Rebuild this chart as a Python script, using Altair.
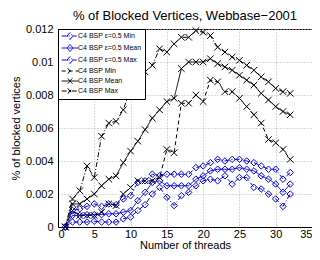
import altair as alt
import pandas as pd

threads = list(range(1, 33))

blue_min = [0, 0.0003, 0.0003, 0.0003, 0.00035, 0.0003, 0.0003, 0.0003, 0.0005, 0.0006,
            0.0010, 0.00135, 0.0020, 0.0024, 0.0018, 0.0013, 0.0019, 0.0021, 0.0025, 0.0028,
            0.0029, 0.0028, 0.0031, 0.0026, 0.0030, 0.0030, 0.0024, 0.0023, 0.0020, 0.0017,
            0.00125, 0.0020]
blue_mean = [0, 0.0007, 0.0007, 0.00075, 0.00075, 0.00075, 0.0008, 0.0008, 0.0009, 0.0010,
             0.0016, 0.0021, 0.0027, 0.0028, 0.0025, 0.0025, 0.0025, 0.0025, 0.0029, 0.0031,
             0.0034, 0.0035, 0.0035, 0.0035, 0.0036, 0.0035, 0.0034, 0.0031, 0.0029, 0.0026,
             0.0021, 0.0026]
blue_max = [0, 0.0010, 0.0011, 0.00125, 0.0014, 0.00125, 0.0014, 0.00135, 0.0017, 0.0019,
            0.0027, 0.0028, 0.0032, 0.0031, 0.0032, 0.0032, 0.0032, 0.0032, 0.0036, 0.0037,
            0.0039, 0.0041, 0.0040, 0.0041, 0.0041, 0.0040, 0.0039, 0.0037, 0.0035, 0.0035,
            0.0029, 0.0033]
black_min = [0, 0.0010, 0.0007, 0.0007, 0.0007, 0.0009, 0.0014, 0.0013, 0.0020, 0.0024,
             0.0028, 0.0028, 0.0028, 0.0030, 0.0047, 0.0045, 0.0075, 0.0075, 0.0080, 0.0076,
             0.0089, 0.0088, 0.0082, 0.0082, 0.0078, 0.0073, 0.0068, 0.0063, 0.0053, 0.0051,
             0.0047, 0.0041]
black_mean = [0, 0.0014, 0.0014, 0.0017, 0.0020, 0.0025, 0.0029, 0.0031, 0.0039, 0.0046,
              0.0052, 0.0059, 0.0066, 0.0071, 0.0076, 0.0078, 0.0096, 0.0100, 0.0100, 0.0100,
              0.0102, 0.0099, 0.0097, 0.0095, 0.0092, 0.0089, 0.0086, 0.0081, 0.0077, 0.0073,
              0.0070, 0.0068]
black_max = [0, 0.0017, 0.0022, 0.0037, 0.0030, 0.0055, 0.0063, 0.0064, 0.0071, 0.0084,
             0.0090, 0.0094, 0.0098, 0.0108, 0.0106, 0.0111, 0.0115, 0.0115, 0.0119, 0.0118,
             0.0116, 0.0109, 0.0106, 0.0103, 0.0101, 0.0098, 0.0095, 0.0091, 0.0088, 0.0084,
             0.0082, 0.0081]

series_names = ["C4 BSP ε=0.5 Min", "C4 BSP ε=0.5 Mean", "C4 BSP ε=0.5 Max",
                "C4 BSP Min", "C4 BSP Mean", "C4 BSP Max"]
series_values = [blue_min, blue_mean, blue_max, black_min, black_mean, black_max]

x_ticks = [0, 5, 10, 15, 20, 25, 30, 35]
y_ticks = [0, 0.002, 0.004, 0.006, 0.008, 0.01, 0.012]

rows = []
for name, vals in zip(series_names, series_values):
    for t, v in zip(threads, vals):
        rows.append({"threads": t, "value": v, "series": name})
df = pd.DataFrame(rows)

BLUE = "#0000ff"
BLACK = "#000000"
colors = [BLUE, BLUE, BLUE, BLACK, BLACK, BLACK]
dashes = [[5, 2, 1, 2], [1, 0], [5, 2, 1, 2], [4, 3], [1, 0], [5, 2, 1, 2]]
XPATH = "M-1,-1L1,1M-1,1L1,-1"
shapes = ["diamond"] * 3 + [XPATH] * 3
sizes = [42, 42, 42, 24, 24, 24]

LDIAM = "M-0.95,0L3.85,0M0.6,0L1.45,-1L2.3,0L1.45,1Z"
LX = "M-0.95,0L3.85,0M0.8,-0.75L2.1,0.75M0.8,0.75L2.1,-0.75"
legend_shapes = [LDIAM] * 3 + [LX] * 3

color_scale = alt.Scale(domain=series_names, range=colors)
dash_scale = alt.Scale(domain=series_names, range=dashes)

x_enc = alt.X("threads:Q", scale=alt.Scale(domain=[0, 35], nice=False),
              axis=alt.Axis(values=x_ticks, title="Number of threads"))
y_enc = alt.Y("value:Q", scale=alt.Scale(domain=[0, 0.012], nice=False),
              axis=alt.Axis(values=y_ticks, format="~g", title="% of blocked vertices"))

lines = alt.Chart(df).mark_line(strokeWidth=1).encode(
    x=x_enc, y=y_enc,
    color=alt.Color("series:N", scale=color_scale, legend=None),
    strokeDash=alt.StrokeDash("series:N", scale=dash_scale, legend=None),
    detail="series:N",
)

points = alt.Chart(df).mark_point(filled=False, strokeWidth=1, opacity=1).encode(
    x=x_enc, y=y_enc,
    color=alt.Color("series:N", scale=color_scale, legend=None),
    shape=alt.Shape("series:N", scale=alt.Scale(domain=series_names, range=shapes), legend=None),
    size=alt.Size("series:N", scale=alt.Scale(domain=series_names, range=sizes), legend=None),
)

legend_layer = alt.Chart(df).transform_filter("false").mark_point(
    filled=False, strokeWidth=1, opacity=1
).encode(
    x=x_enc, y=y_enc,
    color=alt.Color("series:N", scale=color_scale,
                    legend=alt.Legend(title=None, orient="top-left", offset=0,
                                      fillColor="white", strokeColor="black",
                                      padding=3, labelFontSize=7, labelFont="Liberation Sans",
                                      symbolSize=49, symbolStrokeWidth=1, rowPadding=0,
                                      labelOffset=9, labelLimit=200)),
    shape=alt.Shape("series:N", scale=alt.Scale(domain=series_names, range=legend_shapes)),
    strokeDash=alt.StrokeDash("series:N", scale=dash_scale),
)

chart = alt.layer(lines, points, legend_layer).resolve_scale(
    color="independent", shape="independent", strokeDash="independent", size="independent"
).properties(
    width=254, height=198,
    title=alt.Title("% of Blocked Vertices, Webbase\u22122001", fontSize=13,
                    font="Liberation Sans", fontWeight="normal", anchor="middle",
                    frame="group", offset=0, color="black"),
    autosize=alt.AutoSizeParams(type="none"),
    padding={"left": 50, "top": 21, "right": 0, "bottom": 25},
).configure_view(
    stroke="black", strokeWidth=1
).configure_axis(
    labelFont="Liberation Sans", titleFont="Liberation Sans",
    labelFontSize=11, titleFontSize=11, labelColor="black", titleColor="black",
    titleFontWeight="normal", domainColor="black", ticks=False,
    grid=True, gridColor="#b4b4b4", gridDash=[1, 2], gridOpacity=1,
).configure_axisX(
    labelPadding=1, titlePadding=0
).configure_axisY(
    labelPadding=5, titlePadding=4
)

chart.save("out.html", embed_options={"renderer": "svg", "actions": False})
